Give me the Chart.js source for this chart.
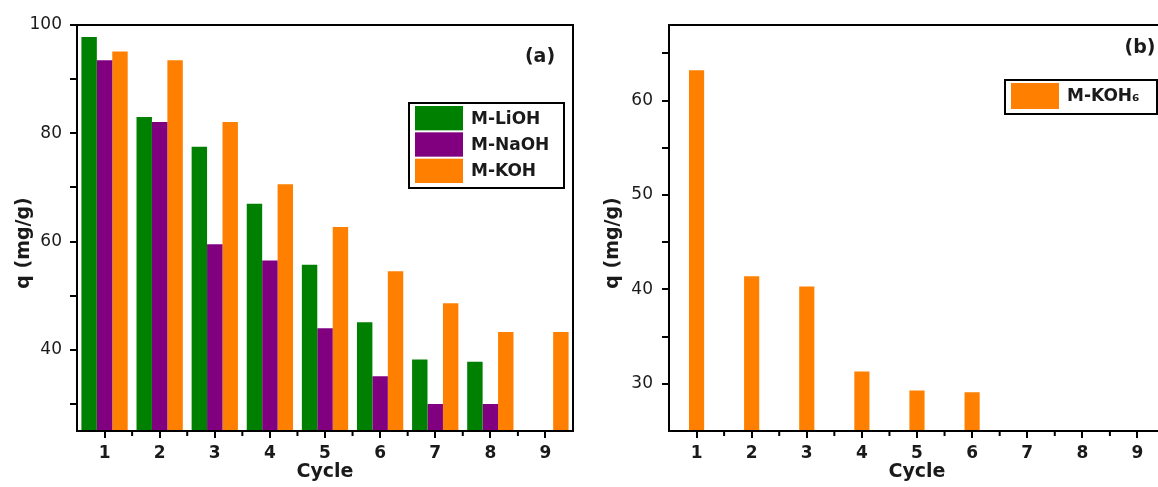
<!DOCTYPE html>
<html>
<head>
<meta charset="utf-8">
<script src="https://cdn.jsdelivr.net/npm/chart.js@4.4.1/dist/chart.umd.min.js"></script>
<style>
  html, body { margin: 0; padding: 0; background: #fff; overflow: hidden; }
  #wrap { position: relative; width: 1158px; height: 487px; overflow: hidden; }
  #left { position: absolute; left: 0; top: 0; }
  #right { position: absolute; left: 580px; top: 0; }
</style>
</head>
<body>
<div id="wrap">
  <canvas id="left" width="580" height="487"></canvas>
  <canvas id="right" width="600" height="487"></canvas>
</div>
<script>
// data
var cycles = ["1", "2", "3", "4", "5", "6", "7", "8", "9"];
var seriesNames = ["M-LiOH", "M-NaOH", "M-KOH"];
var liohValues = [97.8, 83.0, 77.5, 67.0, 55.7, 45.1, 38.2, 37.8, null];
var naohValues = [93.5, 82.1, 59.5, 56.5, 44.0, 35.1, 30.0, 30.0, null];
var kohValues = [95.1, 93.5, 82.1, 70.6, 62.7, 54.5, 48.6, 43.3, 43.3];
var koh6Name = "M-KOH\u2086";
var koh6Values = [63.2, 41.4, 40.3, 31.3, 29.3, 29.1, null, null, null];

var GREEN = "#008000", PURPLE = "#800080", ORANGE = "#ff8000";
var INK = "#1a1a1a";
var FONT = "'DejaVu Sans', 'Liberation Sans', sans-serif";

// frame, minor x ticks, panel tag, y title and boxed legend
var decor = {
  id: "decor",
  afterDraw: function (chart, args, o) {
    var ctx = chart.ctx, a = chart.chartArea, xs = chart.scales.x;
    ctx.save();
    ctx.strokeStyle = "#000";
    ctx.lineWidth = 2;
    ctx.strokeRect(a.left, a.top, a.right - a.left, a.bottom - a.top);

    ctx.beginPath();
    for (var i = 0; i < chart.data.labels.length - 1; i++) {
      var px = (xs.getPixelForValue(i) + xs.getPixelForValue(i + 1)) / 2;
      ctx.moveTo(px, a.bottom);
      ctx.lineTo(px, a.bottom + 5);
    }
    ctx.stroke();

    ctx.fillStyle = INK;
    ctx.font = "bold 19px " + FONT;
    ctx.textAlign = "center";
    ctx.textBaseline = "middle";
    ctx.fillText(o.tag, o.tagX, o.tagY);

    // legend
    var ds = chart.data.datasets;
    var lg = o.legend;
    ctx.lineWidth = 2;
    ctx.strokeRect(lg.x, lg.y, lg.w, lg.h);
    var step = (lg.h - 6) / ds.length;
    ctx.font = "bold 17px " + FONT;
    ctx.textAlign = "left";
    for (var k = 0; k < ds.length; k++) {
      var top = lg.y + 3 + k * step;
      ctx.fillStyle = ds[k].backgroundColor;
      ctx.fillRect(lg.x + 6, top, 48, step - 2);
      ctx.fillStyle = INK;
      ctx.fillText(ds[k].label, lg.x + 62, top + (step - 2) / 2 + 1);
    }

    // y axis title
    ctx.font = "bold 19px " + FONT;
    ctx.textAlign = "center";
    ctx.translate(o.titleX, o.titleY);
    ctx.rotate(-Math.PI / 2);
    ctx.fillText("q (mg/g)", 0, 0);
    ctx.restore();
  }
};

function xAxis() {
  return {
    type: "category",
    offset: true,
    grid: { offset: false, drawOnChartArea: false, tickLength: 7, color: "#000", lineWidth: 2 },
    border: { display: false },
    ticks: { color: INK, font: { family: FONT, size: 17, weight: "bold" }, padding: 5, autoSkip: false, maxRotation: 0 },
    title: { display: true, text: "Cycle", color: INK, font: { family: FONT, size: 19, weight: "bold" }, padding: { top: 0, bottom: 4 } },
    afterFit: function (s) { s.height = 56; }
  };
}

function yAxis(min, max, step, labelEvery, width, pad) {
  return {
    type: "linear",
    min: min,
    max: max,
    grid: { drawOnChartArea: false, tickLength: 7, color: "#000", lineWidth: 2 },
    border: { display: false },
    ticks: {
      stepSize: step,
      includeBounds: false,
      padding: pad,
      color: INK,
      font: { family: FONT, size: 17 },
      callback: function (v) { return v % labelEvery === 0 ? v : ""; }
    },
    afterBuildTicks: function (s) {
      s.ticks = s.ticks.filter(function (t) { return t.value > s.min + 0.01; });
    },
    afterFit: function (s) { s.width = width; }
  };
}

new Chart(document.getElementById("left").getContext("2d"), {
  type: "bar",
  data: {
    labels: cycles,
    datasets: [
      { label: seriesNames[0], data: liohValues, backgroundColor: GREEN },
      { label: seriesNames[1], data: naohValues, backgroundColor: PURPLE },
      { label: seriesNames[2], data: kohValues, backgroundColor: ORANGE }
    ]
  },
  options: {
    responsive: false,
    animation: false,
    devicePixelRatio: 1,
    layout: { padding: { left: 0, right: 7, top: 25, bottom: 0 } },
    datasets: { bar: { categoryPercentage: 0.84, barPercentage: 1.0, borderWidth: 0 } },
    scales: { x: xAxis(), y: yAxis(25, 100, 10, 20, 77, 8) },
    plugins: {
      legend: { display: false },
      tooltip: { enabled: false },
      decor: { tag: "(a)", tagX: 540, tagY: 57, titleX: 24, titleY: 243, legend: { x: 409, y: 103, w: 155, h: 85 } }
    }
  },
  plugins: [decor]
});

new Chart(document.getElementById("right").getContext("2d"), {
  type: "bar",
  data: {
    labels: cycles,
    datasets: [
      { label: koh6Name, data: koh6Values, backgroundColor: ORANGE }
    ]
  },
  options: {
    responsive: false,
    animation: false,
    devicePixelRatio: 1,
    layout: { padding: { left: 0, right: 15, top: 25, bottom: 0 } },
    datasets: { bar: { categoryPercentage: 0.275, barPercentage: 1.0, borderWidth: 0 } },
    scales: { x: xAxis(), y: yAxis(25, 68, 5, 10, 89, 9) },
    plugins: {
      legend: { display: false },
      tooltip: { enabled: false },
      decor: { tag: "(b)", tagX: 560, tagY: 48, titleX: 33, titleY: 243, legend: { x: 425, y: 80, w: 152, h: 34 } }
    }
  },
  plugins: [decor]
});
</script>
</body>
</html>
